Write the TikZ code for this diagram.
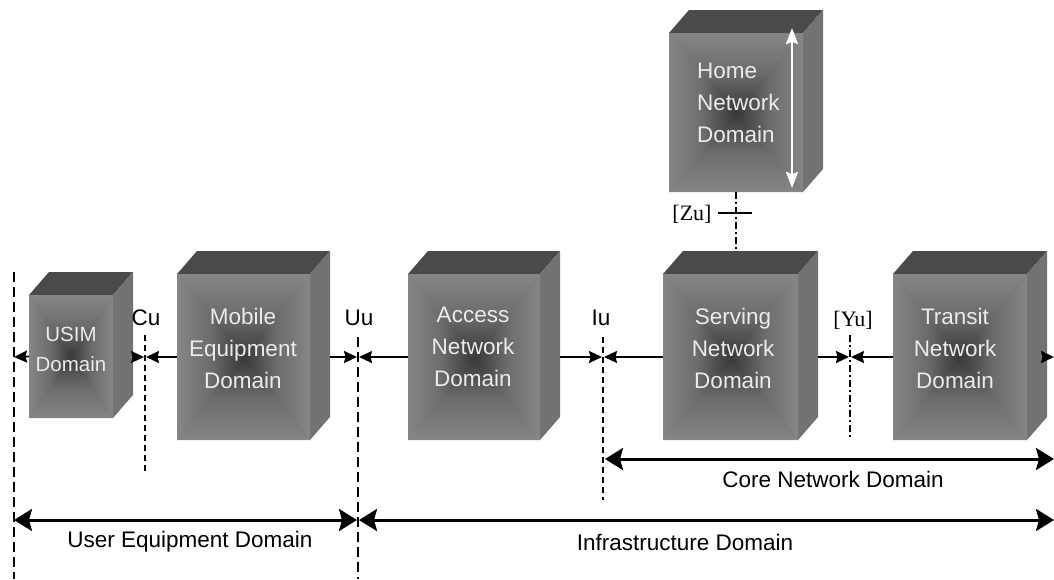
\documentclass[tikz,border=0pt]{standalone}
\usepackage{fontspec}
\setmainfont{Liberation Serif}
\setsansfont{Liberation Sans}
\usetikzlibrary{arrows.meta,calc}

\definecolor{topgray}{HTML}{4A4A4A}
\definecolor{sidegray}{HTML}{727272}
\definecolor{edgegray}{HTML}{868686}
\definecolor{midgray}{HTML}{6C6C6C}
\definecolor{coregray}{HTML}{383838}
\definecolor{facetxt}{HTML}{EBEBEB}

% depth of the extruded boxes
\newcommand\cubedx{20}
\newcommand\cubedy{23}

% #1 name, #2 left, #3 top, #4 right, #5 bottom of the front face
\newcommand\domainbox[5]{%
  \fill[topgray] (#2,#3) -- (#2+\cubedx,#3-\cubedy) -- (#4+\cubedx,#3-\cubedy) -- (#4,#3) -- cycle;
  \fill[sidegray] (#4,#3) -- (#4+\cubedx,#3-\cubedy) -- (#4+\cubedx,#5-\cubedy) -- (#4,#5) -- cycle;
  \node[frontface, minimum width={#4-#2}, minimum height={#5-#3}] (#1) at ({(#2+#4)/2},{(#3+#5)/2}) {};
  \shade[top color=edgegray, bottom color=coregray, middle color=midgray]
    (#1.north west) -- (#1.north east) -- (#1.center) -- cycle;
  \shade[top color=coregray, bottom color=edgegray, middle color=midgray]
    (#1.south west) -- (#1.south east) -- (#1.center) -- cycle;
  \shade[left color=edgegray, right color=coregray, middle color=midgray]
    (#1.north west) -- (#1.south west) -- (#1.center) -- cycle;
  \shade[left color=coregray, right color=edgegray, middle color=midgray]
    (#1.north east) -- (#1.south east) -- (#1.center) -- cycle;
  \coordinate (#1-r) at (#4+\cubedx,357);
}

\tikzset{
  frontface/.style={rectangle, fill=midgray, inner sep=0pt, outer sep=0pt},
  facetext/.style={text=facetxt, font=\sffamily\fontsize{22.5}{32}\selectfont, align=center, inner sep=0pt},
  iflabel/.style={font=\sffamily\fontsize{22.5}{26}\selectfont, inner sep=0pt, anchor=base},
  reflabel/.style={font=\rmfamily\fontsize{22}{26}\selectfont, inner sep=0pt},
  spanlabel/.style={font=\sffamily\fontsize{22.5}{26}\selectfont, inner sep=0pt},
  linktip/.tip={Stealth[length=13pt,width=12pt,inset=1.5pt]},
  spantip/.tip={Stealth[length=18pt,width=22pt,inset=3pt]},
  link/.style={line width=1.8pt, -linktip},
  span/.style={line width=3pt, spantip-spantip},
  bound/.style={line width=1.3pt, dash pattern=on 10pt off 5pt},
  fine/.style={line width=1.1pt, dash pattern=on 6pt off 4pt},
  dashdot/.style={line width=1.1pt, dash pattern=on 7pt off 3pt on 2pt off 3pt},
}

\begin{document}
\begin{tikzpicture}[x=1pt,y=-1pt]
\useasboundingbox (0,0) rectangle (1054,579);

% domain boxes
\domainbox{usim}{29}{295}{113}{418}
\domainbox{mobile}{177}{274}{310}{440}
\domainbox{access}{408}{274}{540}{440}
\domainbox{home}{669}{33}{803}{192}
\domainbox{serving}{663}{274}{798}{440}
\domainbox{transit}{893}{274}{1027}{440}

% box captions
\node[facetext, font=\sffamily\fontsize{20.5}{30}\selectfont] (usim-t) at (71,349) {USIM\\Domain};
\node[facetext] (mobile-t) at (243,348) {Mobile\\Equipment\\Domain};
\node[facetext] (access-t) at (473,347) {Access\\Network\\Domain};
\node[facetext, align=left, anchor=west] (home-t) at (697,103) {Home\\Network\\Domain};
\node[facetext] (serving-t) at (733,348) {Serving\\Network\\Domain};
\node[facetext] (transit-t) at (955,348) {Transit\\Network\\Domain};

% vertical arrow inside the home domain
\coordinate (hm-a) at (792,28);
\coordinate (hm-b) at (792,188);
\draw[white, line width=2.4pt, {Stealth[length=16pt,width=12pt,inset=2pt]}-{Stealth[length=16pt,width=12pt,inset=2pt]}] (hm-a) -- (hm-b);

% reference-point boundaries
\coordinate (L-top) at (14,272);   \coordinate (L-bot) at (14,579);
\coordinate (cu-top) at (145,335); \coordinate (cu-bot) at (145,474);
\coordinate (uu-top) at (358,337); \coordinate (uu-bot) at (358,579);
\coordinate (iu-top) at (603,337); \coordinate (iu-bot) at (603,500);
\coordinate (yu-top) at (850,335); \coordinate (yu-bot) at (850,438);
\coordinate (zu-bot) at (736,251);
\draw[bound] (L-top) -- (L-bot);
\draw[fine] (cu-top) -- (cu-bot);
\draw[bound] (uu-top) -- (uu-bot);
\draw[fine] (iu-top) -- (iu-bot);
\draw[dashdot] (yu-top) -- (yu-bot);
\draw[dashdot] (home.south) -- (zu-bot);
\coordinate (zu-l) at (718,213);
\coordinate (zu-r) at (752,213);
\draw[line width=2pt] (zu-l) -- (zu-r);

% interface labels
\node[iflabel] (cu-lab) at (146,325) {Cu};
\node[iflabel] (uu-lab) at (359,325) {Uu};
\node[iflabel] (iu-lab) at (601,325) {Iu};
\node[reflabel] (yu-lab) at (853,320) {[Yu]};
\node[reflabel] (zu-lab) at (692,214) {[Zu]};

% links between the domains
\coordinate (L-m) at (14,357);
\coordinate (cu-l) at (144,357);   \coordinate (cu-r) at (146,357);
\coordinate (uu-l) at (357,357);   \coordinate (uu-r) at (359,357);
\coordinate (iu-l) at (602,357);   \coordinate (iu-r) at (604,357);
\coordinate (yu-l) at (849,357);   \coordinate (yu-r) at (851,357);
\coordinate (R-m) at (1054,357);
\draw[link] (usim.west) -- (L-m);
\draw[link] (usim-r) -- (cu-l);
\draw[link] (mobile.west) -- (cu-r);
\draw[link] (mobile-r) -- (uu-l);
\draw[link] (access.west) -- (uu-r);
\draw[link] (access-r) -- (iu-l);
\draw[link] (serving.west) -- (iu-r);
\draw[link] (serving-r) -- (yu-l);
\draw[link] (transit.west) -- (yu-r);
\draw[link] (transit-r) -- (R-m);

% domain spans
\coordinate (core-a) at (605,459); \coordinate (core-b) at (1054,459);
\coordinate (ue-a) at (14,520);    \coordinate (ue-b) at (357,520);
\coordinate (inf-a) at (359,520);  \coordinate (inf-b) at (1054,520);
\draw[span] (core-a) -- (core-b);
\draw[span] (ue-a) -- (ue-b);
\draw[span] (inf-a) -- (inf-b);
\node[spanlabel] (core-lab) at (833,479) {Core Network Domain};
\node[spanlabel] (ue-lab) at (190,542) {User Equipment Domain};
\node[spanlabel] (inf-lab) at (685,542) {Infrastructure Domain};
\end{tikzpicture}
\end{document}
